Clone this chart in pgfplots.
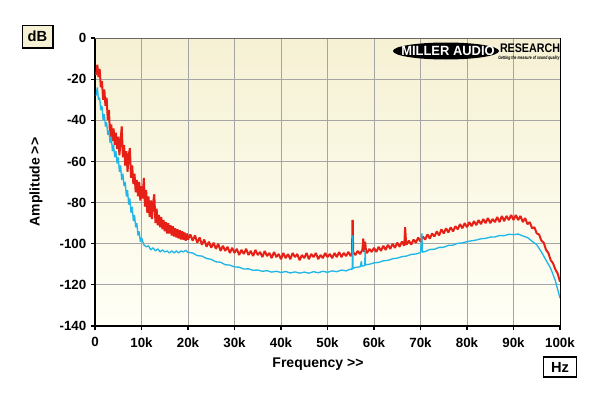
\documentclass[border=0pt]{standalone}
\usepackage{pgfplots}
\pgfplotsset{compat=1.18}
\usepackage{fontspec}
\setmainfont{Liberation Sans}
\definecolor{redtr}{RGB}{230,32,22}
\definecolor{bluetr}{RGB}{32,182,232}
\definecolor{cream}{RGB}{246,241,212}
\definecolor{creamlight}{RGB}{255,255,246}
\definecolor{gridgray}{RGB}{165,165,165}
\begin{document}
\begin{tikzpicture}
\path[use as bounding box] (0,0) rectangle (450pt,-297pt);
\fill[white] (0,0) rectangle (450pt,-297pt);
\begin{axis}[
  at={(71.25pt,-244.5pt)}, anchor=south west,
  scale only axis, width=348.75pt, height=216pt,
  xmin=0, xmax=100, ymin=-140, ymax=0,
  axis background/.style={top color=cream, bottom color=creamlight},
  axis x line*=bottom, axis y line*=left,
  axis line style={-, black, line width=1.6pt},
  xtick={0,10,...,100},
  xticklabels={0,10k,20k,30k,40k,50k,60k,70k,80k,90k,100k},
  ytick={-140,-120,...,0},
  yticklabels={-140,-120,-100,-80,-60,-40,-20,0},
  tick align=outside, major tick length=3pt,
  tick style={black, line width=0.8pt},
  ticklabel style={font=\bfseries\fontsize{10}{12}\selectfont},
  xticklabel style={yshift=-2pt},
  grid=major, major grid style={gridgray, line width=0.7pt},
  clip=true,
]
\addplot[redtr, line width=1.5pt, line join=bevel] coordinates {
(0.25,-18) (0.5,-13) (0.75,-19) (1.0,-15) (1.25,-24) (1.5,-21) (1.75,-30) (2.0,-25) (2.25,-33) (2.5,-29)
(2.75,-40) (3.0,-35) (3.25,-48) (3.5,-42) (3.75,-50) (4.0,-44) (4.25,-52) (4.5,-46) (4.75,-54) (5.0,-48)
(5.25,-57) (5.5,-50) (5.75,-43) (6.0,-58) (6.25,-52) (6.5,-62) (6.75,-55) (7.0,-65) (7.25,-57) (7.5,-53.5)
(7.75,-68) (8.0,-62) (8.25,-71) (8.5,-66) (8.75,-75) (9.0,-69) (9.25,-77) (9.5,-70) (9.75,-79) (10.0,-72)
(10.25,-78) (10.5,-68) (10.75,-82) (11.0,-74) (11.25,-85) (11.5,-77) (11.75,-87) (12.0,-79) (12.25,-88) (12.5,-80)
(12.75,-76) (13.0,-90) (13.25,-83) (13.5,-91) (13.75,-86) (14.0,-92) (14.25,-87) (14.5,-93) (14.75,-88.5) (15.0,-94)
(15.25,-89.5) (15.5,-95) (15.75,-90) (16.0,-95) (16.25,-91) (16.5,-96) (16.75,-91.5) (17.0,-96.5) (17.25,-92.5) (17.5,-97)
(17.75,-93) (18.0,-97.5) (18.25,-93.5) (18.5,-98) (18.75,-94) (19.0,-98) (19.25,-94.5) (19.5,-98.5) (19.75,-95) (20.0,-98)
(20.5,-95.5) (21,-98.5) (21.5,-96) (22,-99.5) (22.5,-97) (23,-100.5) (23.5,-98) (24,-101.5) (24.5,-99) (25,-102)
(25.5,-99.5) (26,-102.5) (26.5,-100) (27,-103.5) (27.5,-101) (28,-103.5) (28.5,-101.5) (29,-104.5) (29.5,-102) (30,-104.5)
(30.5,-102.5) (31,-105.5) (31.5,-103) (32,-105) (32.5,-102.5) (33,-105.5) (33.5,-103.5) (34,-106) (34.5,-103) (35,-105.5)
(35.5,-104) (36,-106.5) (36.5,-103.5) (37,-106) (37.5,-104.5) (38,-107) (38.5,-104) (39,-106.5) (39.5,-105) (40,-107.5)
(40.5,-104.5) (41,-107) (41.5,-105) (42,-107.5) (42.5,-104.5) (43,-106.5) (43.5,-105) (44,-108) (44.5,-105.5) (45,-107)
(45.5,-104.5) (46,-107.5) (46.5,-105) (47,-106.5) (47.5,-104.5) (48,-107.5) (48.5,-105.5) (49,-107) (49.5,-104.5) (50,-106.5)
(50.5,-105) (51,-107) (51.5,-104.5) (52,-106.5) (52.5,-104) (53,-106.5) (53.5,-104.5) (54,-106) (54.5,-104) (55,-106)
(55.3,-104.5) (55.35,-88.5) (55.45,-89) (55.5,-104) (56,-105.5) (56.5,-103.5) (57,-105) (57.5,-103) (57.7,-97.5)
(57.9,-104) (58.1,-99) (58.3,-104) (58.5,-104.5) (59,-102.5) (59.5,-104) (60,-102) (60.5,-104) (61,-101.5) (61.5,-103.5)
(62,-101) (62.5,-103) (63,-100.5) (63.5,-102.5) (64,-100) (64.5,-102) (65,-99.5) (65.5,-101.5) (66,-99) (66.5,-101)
(66.7,-92) (66.9,-100) (67,-100.5) (67.5,-98.5) (68,-100.5) (68.5,-98) (69,-99.5) (69.5,-97) (70,-99) (70.5,-96.5)
(71,-98) (71.5,-95.5) (72,-97.5) (72.5,-95) (73,-96.5) (73.5,-94) (74,-96) (74.5,-93) (75,-95) (75.5,-92.5)
(76,-94.5) (76.5,-92) (77,-94) (77.5,-91.5) (78,-93) (78.5,-90.5) (79,-92.5) (79.5,-90) (80,-92) (80.5,-89.5)
(81,-91.5) (81.5,-89) (82,-91) (82.5,-88.5) (83,-90.5) (83.5,-88) (84,-90) (84.5,-87.5) (85,-90) (85.5,-88)
(86,-89.5) (86.5,-87) (87,-89.5) (87.5,-86.5) (88,-89) (88.5,-86.5) (89,-88.5) (89.5,-86) (90,-88.5) (90.5,-86)
(91,-88.5) (91.5,-86.5) (92,-89.5) (92.5,-87.5) (93,-90.5) (93.5,-89.5) (94,-92.5) (94.5,-92) (95,-95) (95.5,-95.5)
(96,-98.5) (96.5,-99.5) (97,-103) (97.5,-104.5) (98,-108) (98.5,-109.5) (99,-112.5) (99.5,-114.5) (100,-118.5)
};
\addplot[bluetr, line width=1pt, line join=bevel] coordinates {
(0.25,-28) (0.5,-24) (0.75,-30) (1.0,-29) (1.25,-35) (1.5,-33) (1.75,-40) (2.0,-37) (2.25,-43) (2.5,-41)
(2.75,-47) (3.0,-45) (3.25,-51) (3.5,-48) (3.75,-55) (4.0,-52) (4.25,-58) (4.5,-55) (4.75,-61) (5.0,-58)
(5.25,-65) (5.5,-62) (5.75,-69) (6.0,-66) (6.25,-72) (6.5,-70) (6.75,-77) (7.0,-74) (7.25,-81) (7.5,-78)
(7.75,-85) (8.0,-82) (8.25,-89) (8.5,-86) (8.75,-92) (9.0,-90) (9.25,-96) (9.5,-94) (9.75,-99) (10.0,-97)
(10.5,-100.5) (11.0,-101.5) (11.5,-101) (12.0,-103) (12.5,-102) (13.0,-103.5) (13.5,-102.5) (14.0,-104) (14.5,-103)
(15.0,-104) (15.5,-103.5) (16.0,-104.5) (16.5,-103.5) (17.0,-104.5) (17.5,-103.5) (18.0,-104.5) (18.5,-103.5) (19.0,-104) (19.5,-103.2)
(20,-104.2) (21,-104.5) (22,-105.8) (23,-106) (24,-107.2) (25,-107.6) (26,-108.8) (27,-109) (28,-110.2) (29,-110.4)
(30,-111.3) (31,-111.4) (32,-112.3) (33,-112.2) (34,-112.9) (35,-112.8) (36,-113.4) (37,-113.1) (38,-113.8) (39,-113.4)
(40,-114) (41,-113.5) (42,-114.2) (43,-113.7) (44,-114.3) (45,-113.8) (46,-114.3) (47,-113.6) (48,-114.1) (49,-113.4)
(50,-113.9) (51,-113.2) (52,-113.6) (53,-112.8) (54,-113.2) (55,-112.3) (55.3,-112.5) (55.4,-96) (55.5,-112) (56,-111.5)
(57,-111.3) (57.3,-108.5) (57.4,-111) (58,-110.5) (58.1,-103) (58.2,-110.3) (59,-110) (60,-109.3) (61,-109.1) (62,-108.3)
(63,-108.1) (64,-107.3) (65,-107) (66,-106.3) (67,-106) (68,-105.2) (69,-105) (70,-104.3) (70.3,-95) (70.4,-104.1)
(71,-103.8) (72,-102.8) (73,-102.7) (74,-101.8) (75,-101.7) (76,-100.8) (77,-100.7) (78,-99.8) (79,-99.6) (80,-99)
(81,-98.6) (82,-98.2) (83,-97.6) (84,-97.4) (85,-96.8) (86,-96.7) (87,-96) (88,-96.1) (89,-95.4) (90,-95.6)
(91,-95.3) (92,-96.2) (93,-97) (94,-98.8) (95,-100.5) (96,-104) (97,-108) (98,-112) (99,-118) (100,-126.5)
};
\end{axis}
\begin{scope}[x=0.75pt,y=-0.75pt]
\draw[black, line width=0.7pt] (560,38) -- (560,326);
\draw[black!60, line width=0.5pt] (95,38) -- (560,38);
% axis labels
\node[rotate=90, font=\bfseries\fontsize{10.5}{12}\selectfont] at (36,182) {Amplitude >{}>};
\node[font=\bfseries\fontsize{10.5}{12}\selectfont] at (318,364) {Frequency >{}>};
% unit boxes
\node[draw=black, line width=1pt, fill=cream, minimum width=23pt, minimum height=17pt, inner sep=0pt,
      font=\bfseries\fontsize{11}{12}\selectfont] at (37.5,36.5) {dB};
\node[draw=black, line width=1pt, fill=white, minimum width=25pt, minimum height=15pt, inner sep=0pt,
      font=\bfseries\fontsize{11}{12}\selectfont] at (560,367) {Hz};
% logo
\fill[black] (446,51) ellipse [x radius=53, y radius=8.5];
\node[white, inner sep=0pt] at (448,50.5) {\resizebox{70pt}{7pt}{\textbf{MILLER AUDIO}}};
\node[black, inner sep=0pt] at (530,48) {\resizebox{45pt}{6.5pt}{\textbf{RESEARCH}}};
\node[black, inner sep=0pt] at (529,58.5) {\resizebox{46pt}{2.6pt}{\textbf{\textit{Getting the measure of sound quality}}}};
\end{scope}
\end{tikzpicture}
\end{document}
